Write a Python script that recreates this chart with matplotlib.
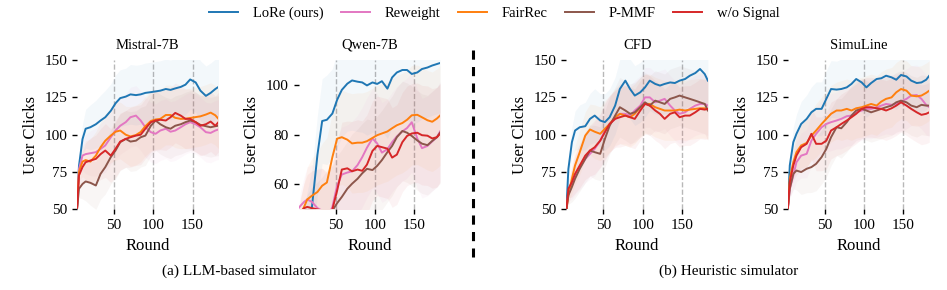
import matplotlib.pyplot as plt
from matplotlib.lines import Line2D

plt.rcParams['font.family'] = ['Liberation Serif', 'DejaVu Serif']
plt.rcParams['font.size'] = 11

rounds = [3, 5.5, 10, 14, 20, 27, 33, 39, 46, 52, 58, 65, 71, 78, 84, 90, 97, 103,
          109, 116, 122, 128, 135, 141, 147, 154, 160, 167, 173, 179, 183]
# half width of the shaded band
spread = [0, 6, 10, 13, 15, 16, 17, 18, 18, 19, 19, 19, 20, 20, 20, 20, 20, 20,
          20, 20, 20, 20, 20, 20, 20, 20, 20, 20, 20, 20, 20]

# Mistral-7B
mistral_lore = [50, 79, 97, 104, 105, 107, 109.5, 111.7, 116, 121, 124.5, 125.5, 127, 126.5, 127, 128,
                128.5, 129, 129.5, 130.6, 130, 131, 132, 133.5, 137, 135, 129.5, 126, 128, 130.6, 132]
mistral_reweight = [50, 77, 86, 87, 87.6, 88.3, 90.5, 92.8, 98.3, 102.8, 106, 108.4, 111.7, 112.8, 109.5, 105,
                    101.7, 100.6, 102.8, 104, 102, 102.8, 105, 107, 108.4, 107, 105, 101.7, 101.2, 102.8, 103.5]
mistral_fairrec = [50, 75, 82, 83, 82, 86, 91.6, 96, 99.4, 102, 102.8, 100, 98.8, 99.8, 101.8, 105.7,
                   109.2, 110.2, 110.6, 113.2, 113.2, 111.3, 110.6, 110.7, 111.2, 111.8, 112.3, 113.5, 114.8, 113, 110.6]
mistral_pmmf = [50, 63.8, 67, 68.7, 67.8, 66, 73.8, 78.3, 85, 89.4, 95, 97.2, 95.4, 96, 98.3, 99.4,
                106, 109.5, 107, 105, 104, 106, 107, 108.4, 109.5, 108.4, 106.6, 105.7, 105, 105.7, 106]
mistral_nosignal = [50, 72.7, 78.3, 81.6, 82.7, 83.8, 87, 89.4, 86, 90.5, 95.4, 97.2, 98.3, 99.4, 100, 104,
                    108.4, 109.5, 110, 109.5, 111.7, 114.6, 112.8, 110.6, 110.6, 108.4, 106, 107, 108.8, 106, 108.4]

# Qwen-7B
qwen_lore = [35, 37, 40, 44, 51, 72, 85.5, 86, 88.5, 94, 98, 100.5, 101.8, 101.3, 101, 99.8,
             101, 100.4, 101.5, 98.5, 103, 105, 106, 106, 104.4, 105, 106.4, 107, 107.8, 108.4, 108.8]
qwen_reweight = [50.5, 51.5, 53, 54, 53, 50.5, 49.5, 46, 51, 59.5, 64, 64.8, 65.3, 67.8, 71, 74.8,
                 78.5, 76.5, 72.8, 74.2, 77, 79.3, 81.3, 82.7, 85, 78.5, 74.6, 75.5, 77.3, 79, 81.3]
qwen_fairrec = [46, 48, 51, 54, 55.5, 57, 59.5, 60.8, 71, 78.4, 79, 78, 76.5, 76.8, 76.8, 77.4,
                78.7, 79.8, 80.5, 81.3, 82.6, 83.8, 84.7, 86, 87.8, 88, 87, 85.8, 85.2, 86.5, 87.7]
qwen_pmmf = [40, 41, 42, 43, 44, 45, 46, 47.5, 49.5, 52.5, 55, 58.3, 60.3, 62.3, 64.5, 66.3,
             65.8, 67.5, 69.8, 73, 75.5, 79, 81.5, 80.8, 79.5, 77.7, 76.4, 75.8, 77.5, 79, 80.8]
qwen_nosignal = [48, 49, 50.5, 51, 50.5, 50, 49.5, 47, 50, 57.5, 66, 66.5, 65.3, 66, 65.5, 68,
                 73.5, 75.5, 75, 74.4, 70.8, 72, 77, 79.5, 80.5, 80.8, 79.8, 79.6, 78.5, 79, 80.4]

# CFD
cfd_lore = [50, 77, 95, 102.8, 105, 105.7, 110.6, 112.8, 109.5, 108.4, 111.7, 119.5, 130.6, 136.2, 130.6, 126.2,
            128.4, 131.7, 136.2, 134, 132.9, 134, 135, 134.6, 136.2, 137.3, 139.5, 141.3, 144, 140.6, 136.2]
cfd_reweight = [50, 61.6, 67, 72.7, 78.3, 83.8, 87.2, 90.5, 96, 102.8, 107.2, 110.6, 114, 114, 112.8, 116.2,
                119.5, 125, 125, 121.7, 122.8, 124, 119.5, 116.2, 114, 115, 117.3, 119.5, 120.6, 120.6, 119.5]
cfd_fairrec = [50, 59.4, 70.5, 79.4, 88.3, 99.4, 103.5, 102, 100.6, 104, 107.2, 111.7, 114, 112.8, 111.7, 114,
               118.4, 120.6, 120.6, 118.4, 117.3, 116.2, 116.2, 116.2, 116.8, 116.2, 116.8, 117.3, 117.7, 117.7, 116.8]
cfd_pmmf = [50, 59.4, 65, 70.5, 77.2, 83.8, 89.4, 88.3, 87.2, 97.2, 106, 112.8, 118.4, 116.2, 114, 115,
            118.4, 121.7, 119.5, 122.8, 121.7, 120.6, 124, 125, 126.2, 125, 124, 122.8, 121.7, 120.6, 116.2]
cfd_nosignal = [50, 63.8, 68.3, 73.8, 79.4, 86, 89.4, 91.6, 96, 101.7, 107.2, 110.6, 111.7, 112.8, 111.7, 110.6,
                116.2, 120.6, 119.5, 116.2, 114, 110.6, 114, 115, 111.7, 112.8, 112.8, 115, 117.3, 116.8, 117.3]

# SimuLine
simu_lore = [50, 79.4, 95, 100.6, 107.2, 110.6, 115, 117.3, 117.3, 124, 130.6, 130.2, 130.6, 131.7, 134, 137.3,
             135, 131.7, 134.6, 137.3, 137.8, 139.5, 138.4, 136.8, 140, 139, 136.2, 134.6, 135, 136.8, 139.5]
simu_reweight = [50, 63.8, 72.7, 81.6, 86, 87.2, 96, 100.6, 105, 107.2, 108.4, 109.5, 110.6, 112.4, 112.8, 115,
                 116.2, 117.3, 117.3, 118.4, 119.5, 120.6, 120, 120.6, 122.2, 124, 126.2, 126.6, 124, 120, 118.4]
simu_fairrec = [50, 70.5, 81.6, 88.3, 92.8, 94.5, 99.4, 102.8, 107.2, 110.6, 114, 116.2, 116.2, 117.3, 116.2, 117.7,
                118.4, 119.5, 120.6, 119.5, 122.2, 124, 125, 128.4, 130.6, 129.5, 126.2, 125.7, 126.2, 128, 129.5]
simu_pmmf = [50, 63.8, 73.8, 76, 75, 77.2, 78.3, 80.5, 85, 90.5, 98.3, 105, 104.3, 108.4, 112.8, 116.2,
             117.3, 116.2, 115, 116.2, 117.3, 118.4, 119.5, 121.7, 122.8, 121.7, 119.5, 118.4, 120, 119.5, 119.5]
simu_nosignal = [50, 68.3, 79.4, 86, 91.6, 93.9, 100.6, 93.9, 93.9, 96, 102.8, 105, 107.2, 109.5, 111.7, 114,
                 117.3, 118.4, 118.4, 117.7, 117.3, 116.2, 117.7, 119.5, 121.7, 119.5, 117.3, 115, 113.3, 114, 115]

methods = ['LoRe (ours)', 'Reweight', 'FairRec', 'P-MMF', 'w/o Signal']
colors = ['#1f77b4', '#e377c2', '#ff7f0e', '#8c564b', '#d62728']

panels = [
    ('Mistral-7B', [mistral_lore, mistral_reweight, mistral_fairrec, mistral_pmmf, mistral_nosignal],
     (50, 150), [50, 75, 100, 125, 150]),
    ('Qwen-7B', [qwen_lore, qwen_reweight, qwen_fairrec, qwen_pmmf, qwen_nosignal],
     (50, 110), [60, 80, 100]),
    ('CFD', [cfd_lore, cfd_reweight, cfd_fairrec, cfd_pmmf, cfd_nosignal],
     (50, 150), [50, 75, 100, 125, 150]),
    ('SimuLine', [simu_lore, simu_reweight, simu_fairrec, simu_pmmf, simu_nosignal],
     (50, 150), [50, 75, 100, 125, 150]),
]
lefts = [0.0813, 0.3153, 0.5981, 0.8319]

fig = plt.figure(figsize=(9.47, 2.90), dpi=100)
axes = []
for left, (title, series, ylim, yticks) in zip(lefts, panels):
    ax = fig.add_axes([left, 0.278, 0.1494, 0.515])
    for vals, c, name in zip(series, colors, methods):
        lo = [v - s for v, s in zip(vals, spread)]
        hi = [v + s for v, s in zip(vals, spread)]
        ax.fill_between(rounds, lo, hi, color=c, alpha=0.05, lw=0)
        ax.plot(rounds, vals, color=c, lw=1.4, label=name)
    ax.set_xlim(3, 183)
    ax.set_ylim(*ylim)
    ax.set_xticks([50, 100, 150])
    ax.set_yticks(yticks)
    ax.grid(axis='x', ls='--', color='#b8b8b8', lw=1)
    ax.set_axisbelow(True)
    for s in ax.spines.values():
        s.set_visible(False)
    ax.tick_params(length=3.5, width=1)
    ax.set_title(title, fontsize=10.5, pad=8)
    ax.set_xlabel('Round', fontsize=12, labelpad=4)
    ax.set_ylabel('User Clicks', fontsize=12, labelpad=4)
    axes.append(ax)

handles, labels = axes[0].get_legend_handles_labels()
fig.legend(handles, labels, loc='center', bbox_to_anchor=(0.522, 0.955), ncol=5,
           frameon=False, fontsize=10.5, handlelength=2, columnspacing=1.2, handletextpad=1.0)

fig.add_artist(Line2D([0.4992, 0.4992], [1 - 50 / 290, 1 - 257 / 290], transform=fig.transFigure,
                      color='black', lw=2.2, dashes=(3, 2.4)))

fig.text(239 / 947, 1 - 271 / 290, '(a) LLM-based simulator', ha='center', va='center', fontsize=11)
fig.text(729 / 947, 1 - 271 / 290, '(b) Heuristic simulator', ha='center', va='center', fontsize=11)

fig.savefig('out.png', dpi=100)
